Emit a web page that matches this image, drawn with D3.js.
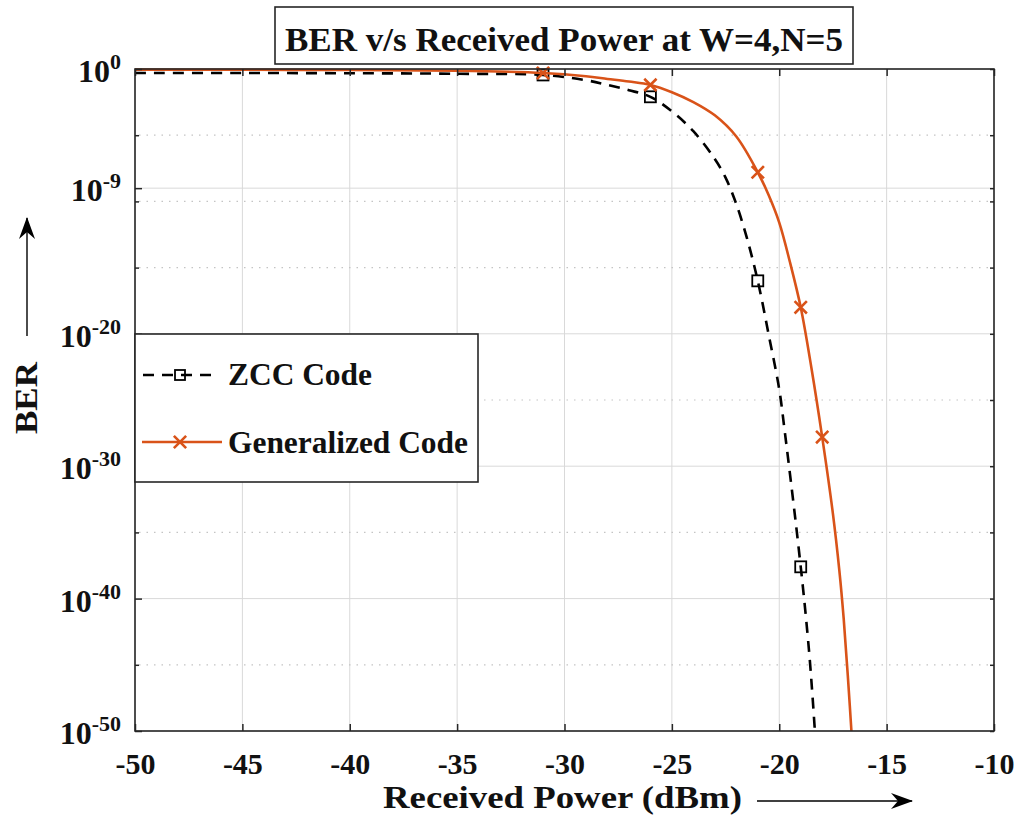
<!DOCTYPE html>
<html lang="en">
<head>
  <meta charset="UTF-8">
  <title>BER v/s Received Power</title>
  <style>
    body { margin: 0; background: #fff; }
    svg { display: block; font-family: "Liberation Serif", "Times New Roman", serif; font-weight: bold; }
    .grid-major { stroke: #d9d9d9; stroke-width: 1; }
    .grid-minor { stroke: #c4c4c4; stroke-width: 1.2; stroke-dasharray: 1.5, 6; }
    .frame { fill: none; stroke: #262626; stroke-width: 1.6; }
  </style>
</head>
<body>
<div id="chart"></div>
<script src="https://d3js.org/d3.v7.min.js"></script>
<script>
// data (BER given as log10 exponent)
const zccPower = [-50, -45, -40, -35, -31, -29, -28, -27, -26, -25, -24, -23, -22.5, -22, -21.5, -21, -20.5, -20, -19.75, -19.5, -19.25, -19, -18.8, -18.6, -18.45, -18.3];
const zccExp   = [-0.3, -0.3, -0.32, -0.36, -0.45, -0.85, -1.2, -1.6, -2.1, -3.2, -4.7, -6.8, -8.2, -10.2, -12.8, -16.0, -20.0, -24.2, -27.3, -30.6, -34.0, -37.6, -40.7, -44.2, -47.4, -51];
const zccMarkPower = [-31, -26, -21, -19];
const zccMarkExp   = [-0.45, -2.1, -16.0, -37.6];

const genPower = [-50, -45, -40, -35, -31, -29, -28, -27, -26, -25, -24, -23, -22, -21, -20.5, -20, -19.5, -19, -18.5, -18, -17.5, -17.2, -17, -16.8, -16.6];
const genExp   = [-0.05, -0.06, -0.08, -0.13, -0.3, -0.55, -0.75, -0.95, -1.2, -1.75, -2.5, -3.5, -5.1, -7.8, -9.5, -11.6, -14.6, -18.0, -22.6, -27.8, -33.6, -37.9, -41.5, -46.0, -51.0];
const genMarkPower = [-31, -26, -21, -19, -18];
const genMarkExp   = [-0.3, -1.2, -7.8, -18.0, -27.8];

const xTicks = [-50, -45, -40, -35, -30, -25, -20, -15, -10];
const yTickExp = [0, -9, -20, -30, -40, -50];
const yMinorExp = [-5, -10, -15, -25, -35, -45];

const seriesNames = ["ZCC Code", "Generalized Code"];
const titleText = "BER v/s Received Power at W=4,N=5";

const W = 1021, H = 820;
const pL = 135, pR = 994, pT = 69, pB = 731;
const orange = "#D95319";

const svg = d3.select("#chart").append("svg")
  .attr("width", W).attr("height", H);

const x = d3.scaleLinear().domain([-50, -10]).range([pL, pR]);
const y = d3.scaleLog().domain([1e-50, 1]).range([pB, pT]);

// grid
const grid = svg.append("g");
grid.selectAll(".gx").data(xTicks).enter().append("line")
  .attr("class", "grid-major")
  .attr("x1", d => x(d)).attr("x2", d => x(d))
  .attr("y1", pT).attr("y2", pB);
grid.selectAll(".gy").data(yTickExp).enter().append("line")
  .attr("class", "grid-major")
  .attr("x1", pL).attr("x2", pR)
  .attr("y1", d => y(Math.pow(10, d))).attr("y2", d => y(Math.pow(10, d)));
grid.selectAll(".gm").data(yMinorExp).enter().append("line")
  .attr("class", "grid-minor")
  .attr("x1", pL + 4).attr("x2", pR)
  .attr("y1", d => y(Math.pow(10, d))).attr("y2", d => y(Math.pow(10, d)));

// curves
svg.append("clipPath").attr("id", "clip")
  .append("rect").attr("x", pL).attr("y", 0).attr("width", pR - pL).attr("height", pB);

const line = d3.line()
  .x(d => x(d[0]))
  .y(d => y(Math.pow(10, d[1])))
  .curve(d3.curveCatmullRom.alpha(0.5));

const plot = svg.append("g").attr("clip-path", "url(#clip)");

plot.append("path")
  .datum(d3.zip(zccPower, zccExp))
  .attr("d", line)
  .attr("fill", "none").attr("stroke", "#000")
  .attr("stroke-width", 2.6).attr("stroke-dasharray", "11,8");

plot.selectAll(".sq").data(d3.zip(zccMarkPower, zccMarkExp)).enter().append("rect")
  .attr("x", d => x(d[0]) - 5.5).attr("y", d => y(Math.pow(10, d[1])) - 5.5)
  .attr("width", 11).attr("height", 11)
  .attr("fill", "none").attr("stroke", "#000").attr("stroke-width", 1.8);

plot.append("path")
  .datum(d3.zip(genPower, genExp))
  .attr("d", line)
  .attr("fill", "none").attr("stroke", orange)
  .attr("stroke-width", 2.6);

const cross = d3.symbol().type(d3.symbolX).size(100);
plot.selectAll(".xm").data(d3.zip(genMarkPower, genMarkExp)).enter().append("path")
  .attr("d", cross)
  .attr("transform", d => `translate(${x(d[0])},${y(Math.pow(10, d[1]))})`)
  .attr("fill", "none").attr("stroke", orange).attr("stroke-width", 2.6);

// axes
const xAxis = svg.append("g")
  .attr("transform", `translate(0,${pB})`)
  .call(d3.axisBottom(x).tickValues(xTicks).tickSize(-7).tickPadding(25).tickFormat(d => d));
xAxis.select(".domain").remove();
xAxis.selectAll(".tick line").attr("stroke", "#262626").attr("stroke-width", 1.5);
xAxis.selectAll(".tick text")
  .attr("font-size", 30).attr("fill", "#111")
  .attr("font-family", "Liberation Serif").attr("font-weight", "bold")
  .attr("dy", "0.6em");

const xTop = svg.append("g")
  .attr("transform", `translate(0,${pT})`)
  .call(d3.axisTop(x).tickValues(xTicks).tickSize(-7).tickFormat(""));
xTop.select(".domain").remove();
xTop.selectAll(".tick line").attr("stroke", "#262626").attr("stroke-width", 1.5);

const yAxis = svg.append("g")
  .attr("transform", `translate(${pL},0)`)
  .call(d3.axisLeft(y).tickValues(yTickExp.map(e => Math.pow(10, e))).tickSize(-7).tickFormat(""));
yAxis.select(".domain").remove();
yAxis.selectAll(".tick line").attr("stroke", "#262626").attr("stroke-width", 1.5);

const yMinor = svg.append("g")
  .attr("transform", `translate(${pL},0)`)
  .call(d3.axisLeft(y).tickValues(yMinorExp.map(e => Math.pow(10, e))).tickSize(-4).tickFormat(""));
yMinor.select(".domain").remove();
yMinor.selectAll(".tick line").attr("stroke", "#262626").attr("stroke-width", 1.5);

const yRight = svg.append("g")
  .attr("transform", `translate(${pR},0)`)
  .call(d3.axisRight(y).tickValues(yTickExp.concat(yMinorExp).map(e => Math.pow(10, e))).tickSize(-4).tickFormat(""));
yRight.select(".domain").remove();
yRight.selectAll(".tick line").attr("stroke", "#262626").attr("stroke-width", 1.5);

// y tick labels with superscripts
const yLab = svg.append("g").attr("fill", "#111");
yTickExp.forEach(e => {
  const t = yLab.append("text")
    .attr("x", 121).attr("y", y(Math.pow(10, e)) + 13)
    .attr("text-anchor", "end");
  t.append("tspan").attr("font-size", 32).text("10");
  t.append("tspan").attr("font-size", 22).attr("dy", -13).text(e);
});

svg.append("rect").attr("class", "frame")
  .attr("x", pL).attr("y", pT).attr("width", pR - pL).attr("height", pB - pT);

// axis labels
svg.append("text")
  .attr("x", 383).attr("y", 808)
  .attr("font-size", 32).attr("fill", "#111")
  .attr("textLength", 359).attr("lengthAdjust", "spacingAndGlyphs")
  .text("Received Power (dBm)");

svg.append("defs").append("marker")
  .attr("id", "arrow").attr("viewBox", "0 0 22 16")
  .attr("refX", 21).attr("refY", 8)
  .attr("markerWidth", 22).attr("markerHeight", 16)
  .attr("markerUnits", "userSpaceOnUse")
  .attr("orient", "auto")
  .append("path").attr("d", "M0,0 L22,8 L0,16 L7,8 Z").attr("fill", "#000");

svg.append("line")
  .attr("x1", 757).attr("x2", 912).attr("y1", 801).attr("y2", 801)
  .attr("stroke", "#000").attr("stroke-width", 1.4)
  .attr("marker-end", "url(#arrow)");

svg.append("text")
  .attr("transform", "translate(37,434) rotate(-90)")
  .attr("font-size", 32).attr("fill", "#111")
  .attr("textLength", 72).attr("lengthAdjust", "spacingAndGlyphs")
  .text("BER");

svg.append("line")
  .attr("x1", 27).attr("x2", 27).attr("y1", 336).attr("y2", 218)
  .attr("stroke", "#000").attr("stroke-width", 1.4)
  .attr("marker-end", "url(#arrow)");

// legend
const lg = svg.append("g");
lg.append("rect")
  .attr("x", pL).attr("y", 334).attr("width", 478 - pL).attr("height", 148)
  .attr("fill", "#fff").attr("stroke", "#262626").attr("stroke-width", 1.6);

lg.append("line")
  .attr("x1", 142).attr("x2", 218).attr("y1", 375).attr("y2", 375)
  .attr("stroke", "#000").attr("stroke-width", 2.6).attr("stroke-dasharray", "11,8").attr("stroke-dashoffset", -1);
lg.append("rect")
  .attr("x", 175).attr("y", 370).attr("width", 10).attr("height", 10)
  .attr("fill", "none").attr("stroke", "#000").attr("stroke-width", 1.8);

lg.append("line")
  .attr("x1", 142).attr("x2", 222).attr("y1", 442).attr("y2", 442)
  .attr("stroke", orange).attr("stroke-width", 2.6);
lg.append("path")
  .attr("d", cross)
  .attr("transform", "translate(180,442)")
  .attr("fill", "none").attr("stroke", orange).attr("stroke-width", 2.6);

lg.selectAll(".lt").data(seriesNames).enter().append("text")
  .attr("x", 228).attr("y", (d, i) => 385 + i * 68)
  .attr("font-size", 31).attr("fill", "#111")
  .attr("textLength", (d, i) => i === 0 ? 144 : 240).attr("lengthAdjust", "spacingAndGlyphs")
  .text(d => d);

// title
svg.append("rect")
  .attr("x", 275).attr("y", 7).attr("width", 578).attr("height", 57)
  .attr("fill", "#fff").attr("stroke", "#262626").attr("stroke-width", 1.6);
svg.append("text")
  .attr("x", 285).attr("y", 51)
  .attr("font-size", 34).attr("fill", "#111")
  .attr("textLength", 558).attr("lengthAdjust", "spacingAndGlyphs")
  .text(titleText);
</script>
</body>
</html>
